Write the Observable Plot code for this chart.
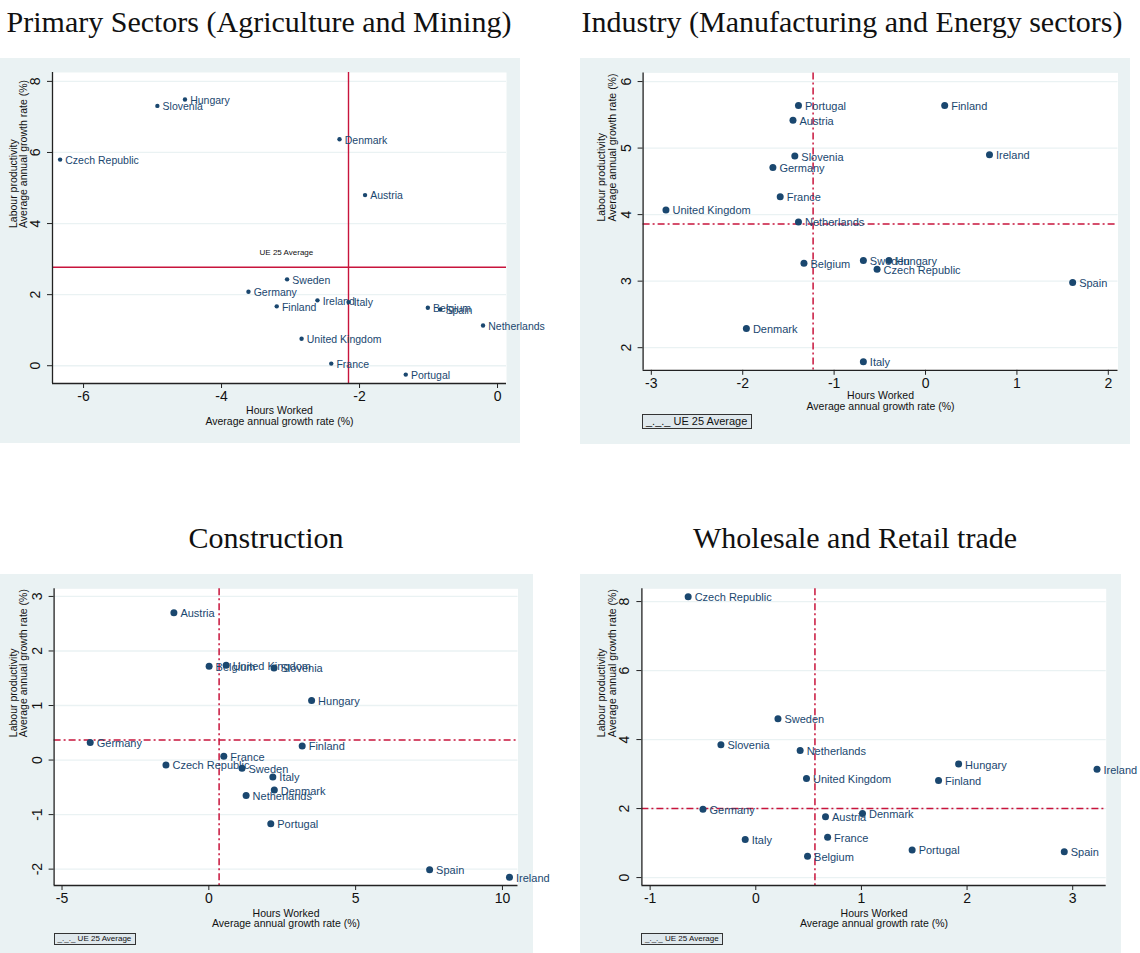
<!DOCTYPE html>
<html><head><meta charset="utf-8">
<script src="https://cdn.jsdelivr.net/npm/d3@7"></script>
<script src="https://cdn.jsdelivr.net/npm/@observablehq/plot@0.6"></script>
<style>
body{margin:0;background:#fff;}
#wrap{position:relative;width:1140px;height:953px;overflow:hidden;background:#fff;}
.title{position:absolute;font-family:"Liberation Serif","DejaVu Serif",serif;font-size:30px;line-height:30px;color:#111;text-align:center;white-space:nowrap;}
.panel{position:absolute;}
.legend{position:absolute;box-sizing:border-box;border:1px solid #333;background:#dfe8ec;font-family:"Liberation Sans",Arial,sans-serif;color:#111;white-space:nowrap;padding-left:3px;}
</style></head><body><div id="wrap"></div>
<script>
// ---------- Data ----------
const titles = ["Primary Sectors (Agriculture and Mining)", "Industry (Manufacturing and Energy sectors)", "Construction", "Wholesale and Retail trade"];
const xTitle = ["Hours Worked", "Average annual growth rate (%)"];
const yTitle = ["Labour productivity", "Average annual growth rate (%)"];
const legendText = "_._._ UE 25 Average";

// Primary sectors
const countriesPrimary = ["Hungary","Slovenia","Denmark","Czech Republic","Austria","Sweden","Germany","Finland","Ireland","Italy","Belgium","Spain","Netherlands","United Kingdom","France","Portugal"];
const hoursPrimary =      [-4.53,-4.93,-2.29,-6.34,-1.92,-3.05,-3.61,-3.20,-2.61,-2.16,-1.01,-0.83,-0.21,-2.84,-2.41,-1.33];
const productivityPrimary=[7.49, 7.31, 6.37, 5.80, 4.80, 2.43, 2.08, 1.67, 1.84, 1.79, 1.63, 1.58, 1.13, 0.76, 0.06,-0.25];
const avgPrimary = [-2.16, 2.77];
const notePrimary = ["UE 25 Average"];
const notePrimaryPos = [-3.06, 3.19];
const xTicksPrimary = [-6,-4,-2,0];
const yTicksPrimary = [0,2,4,6,8];

// Industry
const countriesIndustry = ["Portugal","Finland","Austria","Slovenia","Ireland","Germany","France","United Kingdom","Netherlands","Belgium","Sweden","Hungary","Czech Republic","Spain","Denmark","Italy"];
const hoursIndustry =      [-1.39, 0.21,-1.45,-1.43, 0.70,-1.67,-1.59,-2.84,-1.39,-1.33,-0.68,-0.40,-0.53, 1.61,-1.96,-0.68];
const productivityIndustry=[5.64, 5.64, 5.42, 4.88, 4.90, 4.71, 4.27, 4.07, 3.89, 3.27, 3.31, 3.31, 3.18, 2.98, 2.29, 1.79];
const avgIndustry = [-1.23, 3.86];
const xTicksIndustry = [-3,-2,-1,0,1,2];
const yTicksIndustry = [2,3,4,5,6];

// Construction
const countriesConstruction = ["Austria","Belgium","United Kingdom","Slovenia","Hungary","Germany","Finland","France","Czech Republic","Sweden","Italy","Denmark","Netherlands","Portugal","Spain","Ireland"];
const hoursConstruction =      [-1.19, 0.01, 0.59, 2.22, 3.50,-4.04, 3.18, 0.51,-1.46, 1.13, 2.18, 2.23, 1.27, 2.11, 7.52,10.24];
const productivityConstruction=[2.70, 1.72, 1.74, 1.69, 1.09, 0.32, 0.26, 0.07,-0.09,-0.15,-0.31,-0.55,-0.65,-1.17,-2.01,-2.15];
const avgConstruction = [0.35, 0.37];
const xTicksConstruction = [-5,0,5,10];
const yTicksConstruction = [-2,-1,0,1,2,3];

// Wholesale and retail trade
const countriesTrade = ["Czech Republic","Sweden","Slovenia","Netherlands","Hungary","Ireland","United Kingdom","Finland","Germany","Denmark","Austria","Italy","France","Portugal","Spain","Belgium"];
const hoursTrade =      [-0.64, 0.21,-0.33, 0.42, 1.92, 3.23, 0.48, 1.73,-0.50, 1.01, 0.66,-0.10, 0.68, 1.48, 2.92, 0.49];
const productivityTrade=[8.14, 4.60, 3.85, 3.68, 3.29, 3.14, 2.87, 2.81, 1.98, 1.86, 1.76, 1.10, 1.17, 0.80, 0.75, 0.62];
const avgTrade = [0.56, 2.00];
const xTicksTrade = [-1,0,1,2,3];
const yTicksTrade = [0,2,4,6,8];

// ---------- Drawing ----------
const navy = "#1a476f";
const refRed = "#c8143c";
const wrap = document.getElementById("wrap");

function addTitle(text, cx, top){
  const d = document.createElement("div");
  d.className = "title";
  d.style.left = (cx - 320) + "px";
  d.style.width = "640px";
  d.style.top = top + "px";
  d.textContent = text;
  wrap.appendChild(d);
}
function addLegend(left, top, w, h, fs){
  const d = document.createElement("div");
  d.className = "legend";
  Object.assign(d.style, {left:left+"px", top:top+"px", width:w+"px", height:h+"px", fontSize:fs+"px", lineHeight:(h-2)+"px"});
  d.textContent = legendText;
  wrap.appendChild(d);
}

function makePanel(o){
  const data = o.countries.map((c,i)=>({country:c, hours:o.hours[i], prod:o.prod[i]}));
  const fmt = d => String(d);
  const marks = [
    Plot.frame({fill:"white", stroke:null}),
    Plot.gridY(o.yTicks, {stroke:"#eaf2f3", strokeOpacity:1, strokeWidth:1.3}),
    Plot.ruleX([o.avg[0]], {stroke:refRed, strokeWidth:o.solid?1.4:1.5, strokeDasharray:o.solid?null:"7,3,2,3"}),
    Plot.ruleY([o.avg[1]], {stroke:refRed, strokeWidth:o.solid?1.4:1.5, strokeDasharray:o.solid?null:"7,3,2,3"}),
    Plot.ruleX([o.xDomain[0]], {stroke:"#222", strokeWidth:1.3}),
    Plot.ruleY([o.yDomain[0]], {stroke:"#222", strokeWidth:1.3}),
    Plot.axisX(o.xTicks, {tickSize:5, tickPadding:3, fontSize:14, tickFormat:fmt, label:null, stroke:"#222", fill:"#111"}),
    Plot.axisY(o.yTicks, {tickSize:5, tickFormat:()=> "", label:null, stroke:"#222"}),
    Plot.text(o.yTicks, {y:d=>d, text:fmt, frameAnchor:"left", dx:-17, rotate:-90, textAnchor:"middle", lineAnchor:"middle", fontSize:14, fill:"#111"}),
    Plot.dot(data, {x:"hours", y:"prod", r:o.r, fill:navy, stroke:null}),
    Plot.text(data, {x:"hours", y:"prod", text:"country", textAnchor:"start", dx:o.r+3, dy:1, fill:navy, fontSize:o.labelSize}),
    Plot.text([xTitle[0]], {text:d=>d, frameAnchor:"bottom", dy:o.xt[0], fontSize:10.5, fill:"#111", lineAnchor:"middle"}),
    Plot.text([xTitle[1]], {text:d=>d, frameAnchor:"bottom", dy:o.xt[1], fontSize:10.5, fill:"#111", lineAnchor:"middle"}),
    Plot.text([yTitle[0]], {text:d=>d, frameAnchor:"left", dx:o.yt[0], rotate:-90, fontSize:10.5, fill:"#111", lineAnchor:"middle"}),
    Plot.text([yTitle[1]], {text:d=>d, frameAnchor:"left", dx:o.yt[1], rotate:-90, fontSize:10.5, fill:"#111", lineAnchor:"middle"})
  ];
  if (o.note) marks.push(Plot.text(o.note, {x:()=>o.notePos[0], y:()=>o.notePos[1], text:d=>d, fontSize:8, fill:"#111"}));
  const p = Plot.plot({
    width:o.width, height:o.height,
    marginLeft:o.ml, marginRight:o.mr, marginTop:o.mt, marginBottom:o.mb,
    style:{background:"#eaf2f3", overflow:"visible", fontFamily:"'Liberation Sans', Arial, sans-serif"},
    x:{domain:o.xDomain, axis:null},
    y:{domain:o.yDomain, axis:null},
    marks
  });
  const div = document.createElement("div");
  div.className = "panel";
  div.style.left = o.left + "px";
  div.style.top = o.top + "px";
  div.appendChild(p);
  wrap.appendChild(div);
}

makePanel({countries:countriesPrimary, hours:hoursPrimary, prod:productivityPrimary, avg:avgPrimary, solid:true,
  note:notePrimary, notePos:notePrimaryPos, xTicks:xTicksPrimary, yTicks:yTicksPrimary,
  left:0, top:58, width:520, height:385, ml:52, mr:14, mt:14, mb:60,
  xDomain:[-6.45,0.13], yDomain:[-0.5,8.25], r:2.2, labelSize:10.5, xt:[27,38.5], yt:[-39,-29]});
makePanel({countries:countriesIndustry, hours:hoursIndustry, prod:productivityIndustry, avg:avgIndustry,
  xTicks:xTicksIndustry, yTicks:yTicksIndustry,
  left:580, top:58, width:550, height:386, ml:62.6, mr:12.5, mt:14.4, mb:74.2,
  xDomain:[-3.09,2.106], yDomain:[1.66,6.13], r:3.5, labelSize:11, xt:[25.5,36.5], yt:[-41.6,-30.6]});
makePanel({countries:countriesConstruction, hours:hoursConstruction, prod:productivityConstruction, avg:avgConstruction,
  xTicks:xTicksConstruction, yTicks:yTicksConstruction,
  left:0, top:574, width:533, height:379, ml:53.6, mr:15.5, mt:14.3, mb:68,
  xDomain:[-5.27,10.53], yDomain:[-2.30,3.14], r:3.5, labelSize:11, xt:[28,38], yt:[-40.6,-30]});
makePanel({countries:countriesTrade, hours:hoursTrade, prod:productivityTrade, avg:avgTrade,
  xTicks:xTicksTrade, yTicks:yTicksTrade,
  left:580, top:574, width:541, height:379, ml:61.4, mr:15.3, mt:14.3, mb:68,
  xDomain:[-1.078,3.317], yDomain:[-0.23,8.37], r:3.5, labelSize:11, xt:[28,38], yt:[-40.4,-29.4]});

addTitle(titles[0], 259, 7);
addTitle(titles[1], 852, 7);
addTitle(titles[2], 266, 523);
addTitle(titles[3], 855, 523);

addLegend(642, 414, 110, 15, 11);
addLegend(53.6, 933, 82, 12, 8);
addLegend(641, 933, 82, 12, 8);
</script></body></html>
